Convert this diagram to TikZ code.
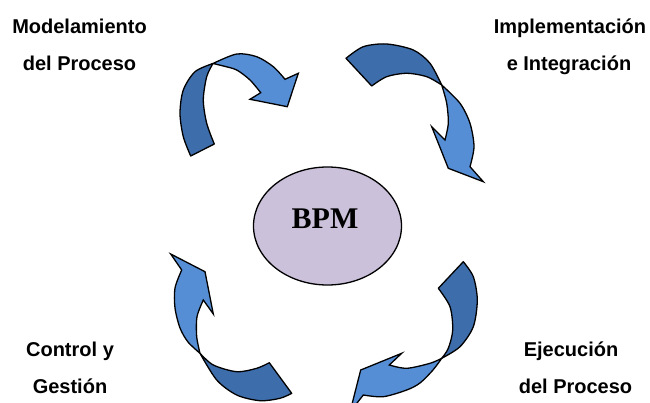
\documentclass[tikz,border=0pt]{standalone}
\usepackage{fontspec}
\usetikzlibrary{shapes.geometric}
\setmainfont{Liberation Sans}
\newfontfamily\bpmfont{Liberation Serif}
\definecolor{bandback}{HTML}{3E6DAB}
\definecolor{bandfront}{HTML}{558ED5}
\definecolor{corefill}{HTML}{CCC1DA}

\begin{document}
\begin{tikzpicture}[x=1pt,y=-1pt,
  back/.style={fill=bandback,draw=black,line width=1.3pt,line join=round},
  front/.style={fill=bandfront,draw=black,line width=1.3pt,line join=miter},
  lbl/.style={anchor=base,inner sep=0pt,font=\fontsize{20}{24}\selectfont\bfseries},
  core/.style={ellipse,draw=black,line width=1.3pt,fill=corefill,
    minimum width=148pt,minimum height=118pt,inner sep=0pt},
  coretext/.style={inner sep=0pt,font=\fontsize{30}{34}\selectfont\bpmfont\bfseries}]
\clip (0,0) rectangle (650,403);

% centre
\node[core] (bpm) at (327.5,226) {};
\node[coretext] (bpmlabel) at (325,219) {BPM};

% cycle arrow: modelling (top left)
\path[back] (190.7,156) -- plot[smooth] coordinates {(214.3,144) (206.7,123.3) (203.3,100) (206.7,76.7) (213,63.5)}
  -- plot[smooth] coordinates {(213,63.5) (195,71.7) (183.3,90) (180,113.3) (183.3,136.7) (190.7,156)} -- cycle;
\path[front] (213,63.5) -- plot[smooth] coordinates {(213,63.5) (236.7,54) (256.7,56.7) (273.3,66.7) (285,79.3)}
  -- (298.3,73.3) -- (287.3,106.7) -- (250,99.3) -- (260.7,92.7)
  -- plot[smooth] coordinates {(260.7,92.7) (250,80) (236.7,70) (223.3,66) (213,63.5)} -- cycle;

% cycle arrow: implementation (top right)
\path[back] (346,58.3) -- plot[smooth] coordinates {(346,58.3) (363.3,46.7) (386.7,44) (413.3,50) (430,63.3) (441.7,85)}
  -- plot[smooth] coordinates {(441.7,85) (426.7,76.7) (406.7,73.3) (386.7,76.7) (371.7,86)} -- cycle;
\path[front] (441.7,85) -- plot[smooth] coordinates {(441.7,85) (460,103.3) (470,123.3) (474,146.7) (470,166.7)}
  -- (483.3,181.7) -- (448.3,168.3) -- (431.7,126.7) -- (445,140)
  -- plot[smooth] coordinates {(445,140) (448.3,123.3) (446.7,103.3) (441.7,85)} -- cycle;

% cycle arrow: execution (bottom right)
\path[back] (438.3,288.3) -- (463.3,261.7)
  -- plot[smooth] coordinates {(463.3,261.7) (473.3,276.7) (477.3,300) (473.3,326.7) (460,346.7) (441.7,358.3)}
  -- plot[smooth] coordinates {(441.7,358.3) (448.3,348.3) (452.7,330) (450,306.7) (438.3,288.3)} -- cycle;
\path[front] (441.7,358.3) -- plot[smooth] coordinates {(441.7,358.3) (430,363.3) (406.7,368.3) (389.3,365)}
  -- (401.7,353.3) -- (360.7,370) -- (350,412) -- (363.3,395)
  -- plot[smooth] coordinates {(363.3,395) (383.3,396.7) (406.7,390) (420,383) (433,370) (441.7,358.3)} -- cycle;

% cycle arrow: control (bottom left)
\path[back] (200,353.3) -- plot[smooth] coordinates {(200,353.3) (213.3,365) (236.7,371.7) (256.7,368.3) (269.3,362.7)}
  -- (291.7,393.3)
  -- plot[smooth] coordinates {(291.7,393.3) (280,398.3) (260,400.7) (236.7,395) (216.7,380) (200,353.3)} -- cycle;
\path[front] (170.7,254) -- (205,271.7) -- (213.3,314) -- (203.3,300)
  -- plot[smooth] coordinates {(203.3,300) (197,316.7) (196.7,336.7) (200,353.3)}
  -- plot[smooth] coordinates {(200,353.3) (188,342) (180,328) (175,308) (175,288) (181.7,270)} -- cycle;

% phase labels
\node[lbl] (m1) at (79.5,34) {Modelamiento};
\node[lbl] (m2) at (79.5,70.5) {del Proceso};
\node[lbl] (i1) at (570,34) {Implementación};
\node[lbl] (i2) at (569,70.5) {e Integración};
\node[lbl] (e1) at (571,356.5) {Ejecución};
\node[lbl] (e2) at (575.5,393) {del Proceso};
\node[lbl] (c1) at (70,356.5) {Control y};
\node[lbl] (c2) at (70,393) {Gestión};
\end{tikzpicture}
\end{document}
